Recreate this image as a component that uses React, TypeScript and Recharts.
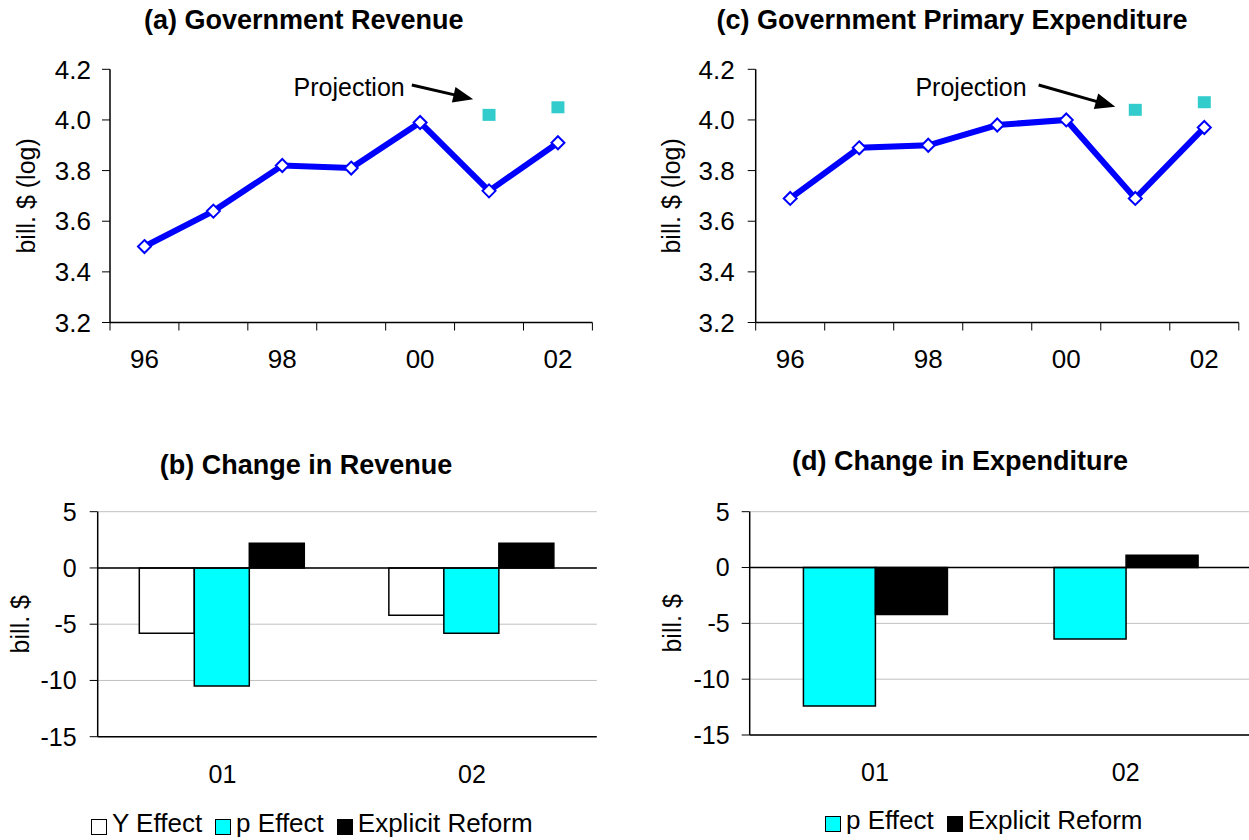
import React from "react";
import {
  ComposedChart,
  Line,
  XAxis,
  YAxis,
  ReferenceLine,
  ReferenceDot,
  BarChart,
  Bar,
  CartesianGrid,
  Legend,
} from "recharts";

const FONT = '"Liberation Sans", Arial, Helvetica, sans-serif';

// panels (a) and (c): levels, bill. $ (log)
const years = ["96", "97", "98", "99", "00", "01", "02"];
const revenue = [3.5, 3.64, 3.82, 3.81, 3.99, 3.72, 3.91];
const revenueProjection = [null, null, null, null, null, 4.02, 4.05];
const expenditure = [3.69, 3.89, 3.9, 3.98, 4.0, 3.69, 3.97];
const expenditureProjection = [null, null, null, null, null, 4.04, 4.07];
const levelTicks = [3.2, 3.4, 3.6, 3.8, 4.0, 4.2];

// panels (b) and (d): changes, bill. $
const changeYears = ["01", "02"];
const revenueYEffect = [-5.8, -4.2];
const revenuePEffect = [-10.5, -5.8];
const revenueReform = [2.2, 2.2];
const expenditurePEffect = [-12.4, -6.4];
const expenditureReform = [-4.2, 1.1];
const changeTicks = [-15, -10, -5, 0, 5];

// tick marks sit between the years, labels on every other year
const boundaryTicks = years.map((_, i) => i - 0.5).concat(years.length - 0.5);
const xDomain = [-0.5, years.length - 0.5];

const Diamond = (p: any) => {
  const { cx, cy, index } = p;
  if (cx == null || cy == null) return <g key={`d${index}`} />;
  const s = 6.5;
  return (
    <polygon
      key={`d${index}`}
      points={`${cx},${cy - s} ${cx + s},${cy} ${cx},${cy + s} ${cx - s},${cy}`}
      fill="#fff"
      stroke="#0000ff"
      strokeWidth={2}
    />
  );
};

const Square = (p: any) => {
  const { cx, cy, index, value } = p;
  if (cx == null || cy == null || value == null) return <g key={`s${index}`} />;
  return <rect key={`s${index}`} x={cx - 6.5} y={cy - 6} width={13} height={12} fill="#33cccc" />;
};

// label each even year half a band to the right of the boundary tick
const yearTick = (halfBand: number) => (p: any) => {
  const i = Math.round(p.payload.value + 0.5);
  if (i % 2 !== 0 || i >= years.length) return <g />;
  return (
    <text x={p.x + halfBand} y={p.y} dy="0.71em" textAnchor="middle" fontSize={26} fill="#000">
      {years[i]}
    </text>
  );
};

const Arrow = (p: any) => {
  const { x1, y1, x2, y2 } = p;
  if ([x1, y1, x2, y2].some((v) => v == null)) return <g />;
  const dx = x2 - x1;
  const dy = y2 - y1;
  const len = Math.hypot(dx, dy);
  const ux = dx / len;
  const uy = dy / len;
  const head = 20;
  const half = 8;
  const bx = x2 - ux * head;
  const by = y2 - uy * head;
  return (
    <g>
      <line x1={x1} y1={y1} x2={bx + ux * 2} y2={by + uy * 2} stroke="#000" strokeWidth={3} />
      <polygon
        points={`${x2},${y2} ${bx - uy * half},${by + ux * half} ${bx + uy * half},${by - ux * half}`}
        fill="#000"
      />
    </g>
  );
};

const yTitle = (text: string, dx: number) => (props: any) => {
  const vb = props.viewBox || {};
  const x = (vb.x || 0) + dx;
  const y = (vb.y || 0) + (vb.height || 0) / 2;
  return (
    <text
      x={x}
      y={y}
      transform={`rotate(-90 ${x} ${y})`}
      textAnchor="middle"
      dominantBaseline="central"
      fontSize={25}
      fill="#000"
    >
      {text}
    </text>
  );
};

const Title = ({ text, center, top }: { text: string; center: number; top: number }) => (
  <div
    style={{
      position: "absolute",
      left: center - 300,
      width: 600,
      top,
      textAlign: "center",
      fontWeight: "bold",
      fontSize: 27,
      lineHeight: "27px",
      whiteSpace: "nowrap",
    }}
  >
    {text}
  </div>
);

type LevelProps = {
  left: number;
  width: number;
  yAxisWidth: number;
  plotRight: number;
  yTickMargin: number;
  yTitleX: number;
  title: string;
  titleCenter: number;
  values: number[];
  projection: (number | null)[];
  noteAt: { x: number; y: number };
  arrowFrom: { x: number; y: number };
  arrowTo: { x: number; y: number };
};

const LevelPanel = (p: LevelProps) => {
  const rows = years.map((year, i) => ({ i, year, value: p.values[i], proj: p.projection[i] }));
  const height = 400;
  const halfBand = (p.plotRight - p.yAxisWidth) / years.length / 2;
  return (
    <div style={{ position: "absolute", left: p.left, top: 0, width: p.width, height }}>
      <Title text={p.title} center={p.titleCenter} top={7} />
      <ComposedChart
        width={p.width}
        height={height}
        data={rows}
        margin={{ top: 69.3, right: p.width - p.plotRight, left: 0, bottom: 27.5 }}
      >
        <XAxis
          type="number"
          dataKey="i"
          domain={xDomain}
          ticks={boundaryTicks}
          interval={0}
          height={50}
          tick={yearTick(halfBand)}
          tickSize={8}
          tickMargin={19.5}
          tickLine={{ stroke: "#000", strokeWidth: 1 }}
          axisLine={{ stroke: "#000", strokeWidth: 1.5 }}
          allowDataOverflow
        />
        <XAxis
          xAxisId="top"
          orientation="top"
          type="number"
          domain={xDomain}
          height={0}
          tick={false}
          tickLine={false}
          axisLine={{ stroke: "#999" }}
        />
        <YAxis
          type="number"
          domain={[3.2, 4.2]}
          ticks={levelTicks}
          interval={0}
          width={p.yAxisWidth}
          tickSize={8}
          tickMargin={p.yTickMargin}
          tickFormatter={(v: number) => v.toFixed(1)}
          tick={{ fill: "#000", fontSize: 26 }}
          tickLine={{ stroke: "#000" }}
          axisLine={{ stroke: "#000", strokeWidth: 1.5 }}
          allowDataOverflow
          label={{ content: yTitle("bill. $ (log)", p.yTitleX) }}
        />
        <YAxis
          yAxisId="right"
          orientation="right"
          type="number"
          domain={[3.2, 4.2]}
          width={0}
          tick={false}
          tickLine={false}
          axisLine={{ stroke: "#999" }}
        />
        <Line
          dataKey="value"
          stroke="#0000ff"
          strokeWidth={6}
          dot={Diamond}
          activeDot={false}
          isAnimationActive={false}
        />
        <Line
          dataKey="proj"
          stroke="none"
          strokeWidth={0}
          dot={Square}
          activeDot={false}
          isAnimationActive={false}
        />
        <ReferenceLine segment={[p.arrowFrom, p.arrowTo]} shape={Arrow} />
        <ReferenceDot
          x={p.noteAt.x}
          y={p.noteAt.y}
          r={1}
          fill="none"
          stroke="none"
          label={{ value: "Projection", position: "center", fontSize: 25, fill: "#000" }}
        />
      </ComposedChart>
    </div>
  );
};

type Series = { key: string; name: string; fill: string; values: number[] };

type ChangeProps = {
  left: number;
  width: number;
  yAxisWidth: number;
  plotRight: number;
  plotBottom: number;
  yTickMargin: number;
  xTickMargin: number;
  yTitleX: number;
  title: string;
  titleCenter: number;
  titleTop: number;
  series: Series[];
  gap: string;
  legendLeft: number;
  legendTop: number;
};

const ChangePanel = (p: ChangeProps) => {
  const height = 410;
  const rows = changeYears.map((year, i) => {
    const r: any = { year };
    p.series.forEach((s) => (r[s.key] = s.values[i]));
    return r;
  });
  const legend = () => (
    <div style={{ display: "flex", fontSize: 26, lineHeight: "26px", whiteSpace: "nowrap", color: "#000" }}>
      {p.series.map((s) => (
        <div key={s.key} style={{ display: "flex", alignItems: "flex-start", marginRight: 13 }}>
          <span
            style={{
              display: "inline-block",
              width: 16,
              height: 16,
              boxSizing: "border-box",
              background: s.fill,
              border: "1.5px solid #000",
              marginTop: 9,
              marginRight: 5,
            }}
          />
          <span>{s.name}</span>
        </div>
      ))}
    </div>
  );
  return (
    <div style={{ position: "absolute", left: p.left, top: 430, width: p.width, height }}>
      <Title text={p.title} center={p.titleCenter} top={p.titleTop} />
      <BarChart
        width={p.width}
        height={height}
        data={rows}
        margin={{ top: 81.7, right: p.width - p.plotRight, left: 0, bottom: height - p.plotBottom - 50 }}
        barCategoryGap={p.gap}
        barGap={0}
      >
        <CartesianGrid vertical={false} stroke="#c0c0c0" />
        <XAxis
          dataKey="year"
          height={50}
          tickLine={false}
          tickSize={0}
          tickMargin={p.xTickMargin}
          tick={{ fill: "#000", fontSize: 25 }}
          axisLine={{ stroke: "#000", strokeWidth: 1.5 }}
        />
        <XAxis
          xAxisId="top"
          orientation="top"
          type="number"
          domain={[0, 1]}
          height={0}
          tick={false}
          tickLine={false}
          axisLine={{ stroke: "#555" }}
        />
        <YAxis
          type="number"
          domain={[-15, 5]}
          ticks={changeTicks}
          interval={0}
          width={p.yAxisWidth}
          tickSize={8}
          tickMargin={p.yTickMargin}
          tick={{ fill: "#000", fontSize: 25 }}
          tickLine={{ stroke: "#000" }}
          axisLine={{ stroke: "#000", strokeWidth: 1.5 }}
          label={{ content: yTitle("bill. $", p.yTitleX) }}
        />
        <YAxis
          yAxisId="right"
          orientation="right"
          type="number"
          domain={[-15, 5]}
          width={0}
          tick={false}
          tickLine={false}
          axisLine={{ stroke: "#888" }}
        />
        <Legend
          verticalAlign="middle"
          content={legend}
          wrapperStyle={{ left: p.legendLeft, top: p.legendTop, width: "auto", height: "auto" }}
        />
        {p.series.map((s) => (
          <Bar
            key={s.key}
            dataKey={s.key}
            name={s.name}
            fill={s.fill}
            stroke="#000"
            strokeWidth={1.5}
            isAnimationActive={false}
          />
        ))}
        <ReferenceLine y={0} stroke="#000" strokeWidth={1.5} />
      </BarChart>
    </div>
  );
};

export default function App() {
  return (
    <div
      style={{
        position: "absolute",
        left: 0,
        top: 0,
        width: 1249,
        height: 840,
        overflow: "hidden",
        background: "#fff",
        fontFamily: FONT,
        color: "#000",
      }}
    >
      <LevelPanel
        left={0}
        width={620}
        yAxisWidth={110}
        plotRight={592.4}
        yTickMargin={11}
        yTitleX={25.7}
        title="(a) Government Revenue"
        titleCenter={303.7}
        values={revenue}
        projection={revenueProjection}
        noteAt={{ x: 2.97, y: 4.128 }}
        arrowFrom={{ x: 3.88, y: 4.138 }}
        arrowTo={{ x: 4.77, y: 4.082 }}
      />
      <LevelPanel
        left={620}
        width={629}
        yAxisWidth={135.7}
        plotRight={618.8}
        yTickMargin={13}
        yTitleX={51.5}
        title="(c) Government Primary Expenditure"
        titleCenter={332}
        values={expenditure}
        projection={expenditureProjection}
        noteAt={{ x: 2.62, y: 4.128 }}
        arrowFrom={{ x: 3.6, y: 4.138 }}
        arrowTo={{ x: 4.71, y: 4.052 }}
      />
      <ChangePanel
        left={0}
        width={620}
        yAxisWidth={97.7}
        plotRight={596.8}
        plotBottom={306.7}
        yTickMargin={13}
        xTickMargin={28.5}
        yTitleX={19.8}
        title="(b) Change in Revenue"
        titleCenter={306}
        titleTop={22}
        series={[
          { key: "y", name: "Y Effect", fill: "#ffffff", values: revenueYEffect },
          { key: "p", name: "p Effect", fill: "#00ffff", values: revenuePEffect },
          { key: "r", name: "Explicit Reform", fill: "#000000", values: revenueReform },
        ]}
        gap="16.67%"
        legendLeft={91}
        legendTop={380}
      />
      <ChangePanel
        left={620}
        width={640}
        yAxisWidth={129.7}
        plotRight={631}
        plotBottom={305}
        yTickMargin={12}
        xTickMargin={28.7}
        yTitleX={52}
        title="(d) Change in Expenditure"
        titleCenter={340}
        titleTop={18}
        series={[
          { key: "p", name: "p Effect", fill: "#00ffff", values: expenditurePEffect },
          { key: "r", name: "Explicit Reform", fill: "#000000", values: expenditureReform },
        ]}
        gap="21.43%"
        legendLeft={205}
        legendTop={377}
      />
    </div>
  );
}
